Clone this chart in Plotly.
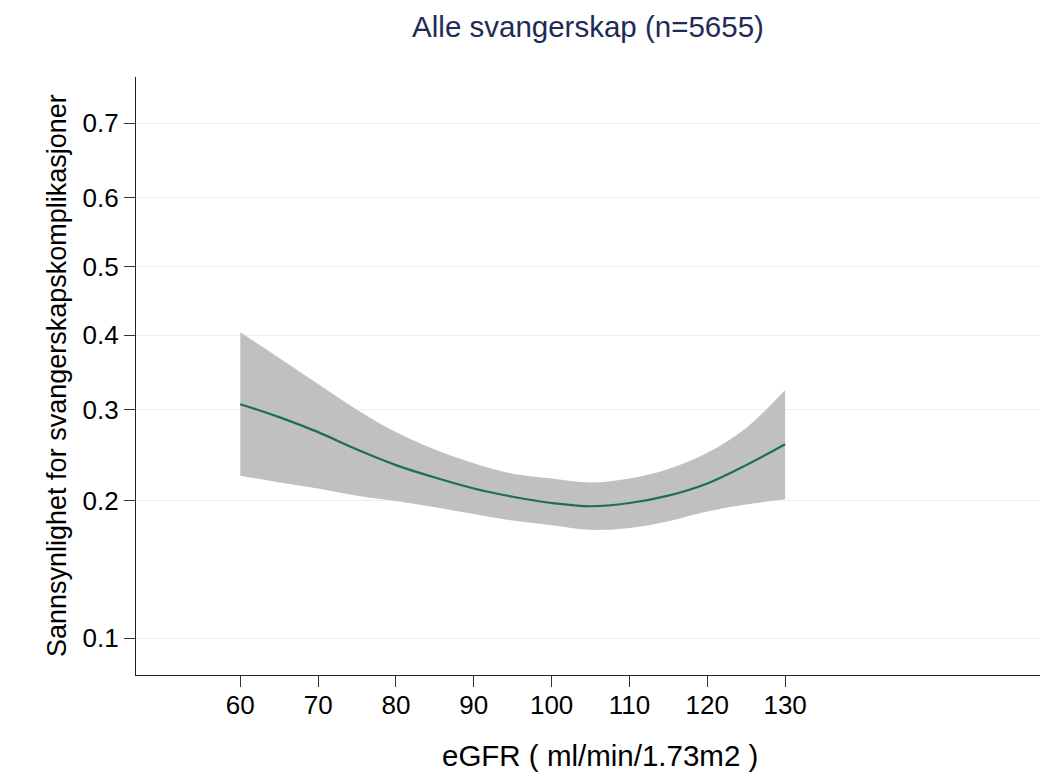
import numpy as np
import plotly.graph_objects as go

# ---- data ----
egfr = [60, 65, 70, 75, 80, 85, 90, 95, 100, 105, 110, 115, 120, 125, 130]
prob = [0.307, 0.291, 0.273, 0.253, 0.236, 0.223, 0.212, 0.204, 0.198, 0.195,
        0.198, 0.205, 0.217, 0.236, 0.259]
upper = [0.404, 0.368, 0.333, 0.300, 0.273, 0.253, 0.238, 0.227, 0.222, 0.218,
         0.222, 0.232, 0.2495, 0.278, 0.325]
lower = [0.225, 0.218, 0.212, 0.205, 0.200, 0.194, 0.188, 0.182, 0.178, 0.174,
         0.1755, 0.1815, 0.1902, 0.1967, 0.2015]
y_ticks = [0.1, 0.2, 0.3, 0.4, 0.5, 0.6, 0.7]
y_ticklabels = ["0.1", "0.2", "0.3", "0.4", "0.5", "0.6", "0.7"]
x_ticks = [60, 70, 80, 90, 100, 110, 120, 130]

title_text = "Alle svangerskap (n=5655)"
x_title = "eGFR ( ml/min/1.73m2 )"
y_title = "Sannsynlighet for svangerskapskomplikasjoner"


def logit(p):
    p = np.asarray(p, dtype=float)
    return np.log(p / (1 - p))


FONT = "Liberation Sans, Arial, Helvetica, sans-serif"

# page body has an 8px margin: plot area target = x 136..1040, y 77..675
W, H = 1040, 765
L, T, R, B = 128, 69, 8, 98
PW, PH = W - L - R, H - T - B

fig = go.Figure()
fig.add_trace(go.Scatter(x=egfr, y=logit(lower), mode="lines",
                         line=dict(width=0, color="rgba(0,0,0,0)", shape="spline"),
                         hoverinfo="skip", showlegend=False))
fig.add_trace(go.Scatter(x=egfr, y=logit(upper), mode="lines",
                         line=dict(width=0, color="rgba(0,0,0,0)", shape="spline"),
                         fill="tonexty", fillcolor="rgb(192,192,192)",
                         hoverinfo="skip", showlegend=False))
fig.add_trace(go.Scatter(x=egfr, y=logit(prob), mode="lines",
                         line=dict(width=2.2, color="rgb(30,108,96)", shape="spline"),
                         showlegend=False))

fig.update_layout(
    width=W, height=H,
    margin=dict(l=L, r=R, t=T, b=B),
    paper_bgcolor="white", plot_bgcolor="white",
    font=dict(family=FONT, size=26, color="black"),
    title=dict(text=title_text, x=0.5, xref="paper", xanchor="center",
               y=1 - 19 / H, yref="container", yanchor="middle",
               font=dict(family=FONT, size=29.5, color="rgb(30,43,87)")),
    showlegend=False,
)
fig.update_xaxes(
    range=[46.6, 162.75], tickmode="array", tickvals=x_ticks,
    ticks="outside", ticklen=11, tickwidth=1, tickcolor="#333333",
    showline=True, linecolor="#222222", linewidth=1.3,
    showgrid=False, zeroline=False, ticklabelstandoff=-4,
    tickfont=dict(family=FONT, size=26, color="black"),
)
fig.update_yaxes(
    range=[-2.416, 1.121], tickmode="array", tickvals=logit(y_ticks).tolist(),
    ticktext=y_ticklabels,
    ticks="outside", ticklen=11, tickwidth=1, tickcolor="#333333",
    showline=True, linecolor="#222222", linewidth=1.3,
    showgrid=True, gridcolor="#e9f0f2", gridwidth=1, zeroline=False,
    tickfont=dict(family=FONT, size=26, color="black"),
)
fig.add_annotation(text=y_title, xref="paper", yref="paper",
                   x=(57 - 8 - L) / PW, y=0.5, xanchor="center", yanchor="middle",
                   textangle=-90, showarrow=False,
                   font=dict(family=FONT, size=27, color="black"))
fig.add_annotation(text=x_title, xref="paper", yref="paper",
                   x=(600 - 8 - L) / PW, y=(675 - 755) / PH,
                   xanchor="center", yanchor="middle", showarrow=False,
                   font=dict(family=FONT, size=29.5, color="black"))

fig.write_html("out.html")
